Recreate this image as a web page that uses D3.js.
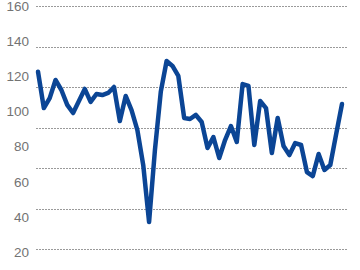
<!DOCTYPE html>
<html>
<head>
<meta charset="utf-8">
<script src="https://cdn.jsdelivr.net/npm/d3@7"></script>
<style>
  body { margin: 0; background: #fff; }
  svg { display: block; }
</style>
</head>
<body>
<svg id="chart" width="360" height="270"></svg>
<script>
var svg = d3.select('#chart');
const W = +svg.attr('width');
const H = +svg.attr('height');

// monthly index values
const values = [122.6, 101.9, 107.6, 117.9, 112.2, 103.7, 99.1, 105.9, 112.8, 105.4,
                109.9, 109.3, 110.5, 113.9, 94.5, 108.8, 100.8, 89.4, 69.5, 37.1,
                78.0, 111.1, 128.7, 125.9, 120.2, 96.3, 95.7, 98.0, 94.0, 79.2,
                85.4, 73.5, 83.7, 91.7, 82.6, 115.6, 114.5, 80.9, 105.9, 101.9,
                76.3, 96.3, 80.3, 75.2, 82.0, 80.9, 65.5, 63.2, 75.8, 66.7,
                69.5, 87.1, 104.2];
const tickLabels = [160, 140, 120, 100, 80, 60, 40, 20];
const gridCount = 7;

const xScale = d3.scaleLinear()
    .domain([0, values.length - 1])
    .range([38, 342]);

const yScale = d3.scaleLinear()
    .domain([20, 160])
    .range([252, 6]);

// the dotted rules do not sit on the labels in the source, they have their own spacing
const gridScale = d3.scaleLinear()
    .domain([0, gridCount - 1])
    .range([6, 249]);

svg.append('g').selectAll('line')
    .data(d3.range(gridCount))
    .enter().append('line')
        .attr('x1', 36)
        .attr('x2', 348)
        .attr('y1', d => Math.round(gridScale(d)) + 0.5)
        .attr('y2', d => Math.round(gridScale(d)) + 0.5)
        .style('stroke', '#9a9a9a')
        .style('stroke-width', 1)
        .style('stroke-dasharray', '2,1');

const yAxis = svg.append('g')
    .attr('transform', 'translate(29,0)')
    .call(d3.axisLeft(yScale).tickValues(tickLabels).tickSize(0).tickPadding(0));
yAxis.select('.domain').remove();
yAxis.selectAll('text')
    .style('font-family', '"Liberation Sans", Arial, sans-serif')
    .style('font-size', '13.5px')
    .style('fill', '#737373');

const line = d3.line()
    .x((d, i) => xScale(i))
    .y(d => yScale(d));

svg.append('path')
    .datum(values)
    .attr('d', line)
    .style('fill', 'none')
    .style('stroke', '#0b4595')
    .style('stroke-width', 4.5)
    .style('stroke-linejoin', 'round')
    .style('stroke-linecap', 'round');
</script>
</body>
</html>
